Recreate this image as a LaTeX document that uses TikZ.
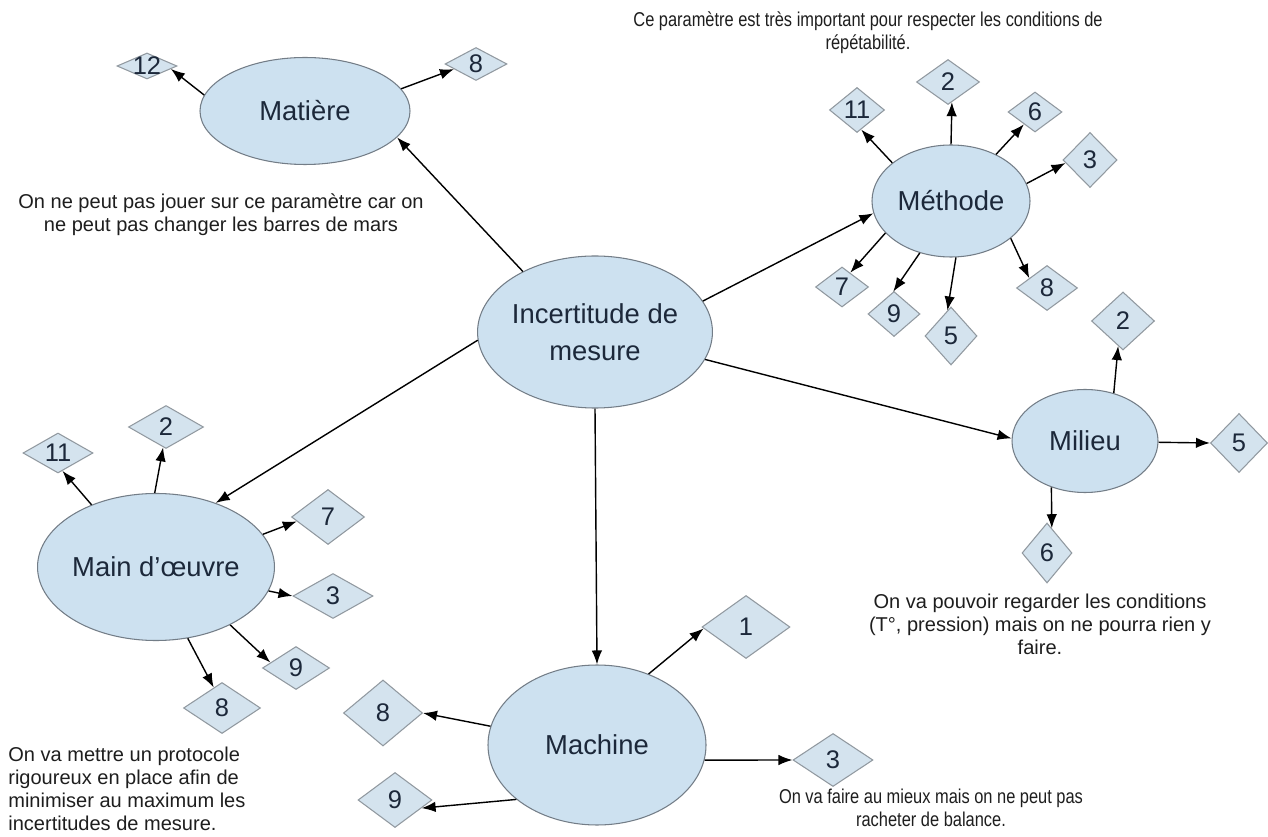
\documentclass[tikz,border=0pt]{standalone}
\usepackage{fontspec}
\setmainfont{Liberation Sans}
\usetikzlibrary{shapes.geometric,arrows.meta}
\definecolor{ellfill}{RGB}{205,225,240}
\definecolor{ellborder}{RGB}{115,125,135}
\definecolor{diafill}{RGB}{212,227,238}
\definecolor{diaborder}{RGB}{145,153,160}
\definecolor{labnavy}{RGB}{28,40,58}
\definecolor{notegray}{RGB}{30,30,30}
\newcommand{\biglabelfont}{\fontsize{15.6}{21}\selectfont}
\newcommand{\numberfont}{\fontsize{14.5}{16}\selectfont}
\newcommand{\annotfont}{\fontsize{11.4}{13.1}\selectfont}
\tikzset{
  ell/.style 2 args={ellipse, draw=ellborder, line width=0.6pt, fill=ellfill,
    inner sep=0pt, minimum width=#1*0.02cm, minimum height=#2*0.02cm,
    font=\biglabelfont, text=labnavy, align=center},
  dia/.style 2 args={diamond, draw=diaborder, line width=0.6pt, fill=diafill,
    inner sep=0pt, minimum width=#1*0.02cm, minimum height=#2*0.02cm},
  num/.style={font=\numberfont, text=labnavy, inner sep=0pt},
  arr/.style={-{Latex[length=2.8mm,width=2.1mm]}, line width=0.8pt, black},
  note/.style={font=\annotfont, text=notegray, inner sep=0pt, align=center}
}
\begin{document}
\begin{tikzpicture}[x=0.02cm,y=-0.02cm]
\useasboundingbox[fill=white] (0,0) rectangle (1268,837);

% main ellipses
\node[ell={234}{152}] (inc) at (595,332) {Incertitude de\\mesure};
\node[ell={210}{107}] (mat) at (305,111) {Matière};
\node[ell={158}{112}] (met) at (951,201) {Méthode};
\node[ell={146}{103}] (mil) at (1085,441) {Milieu};
\node[ell={205}{147}] (mo) at (156,567) {Main d’œuvre};
\node[ell={218}{160}] (mac) at (597,745) {Machine};

% Matière diamonds
\node[dia={60}{26}, label={[num]center:12}] (m12) at (147,66) {};
\node[dia={62}{33}, label={[num]center:8}] (m8) at (476,64) {};

% Méthode diamonds
\node[dia={55}{45}, label={[num]center:11}] (t11) at (857,110) {};
\node[dia={63}{45}, label={[num]center:2}] (t2) at (948,82) {};
\node[dia={54}{40}, label={[num]center:6}] (t6) at (1035,112) {};
\node[dia={54}{55}, label={[num]center:3}] (t3) at (1090,160) {};
\node[dia={53}{40}, label={[num]center:7}] (t7) at (842,287) {};
\node[dia={52}{45}, label={[num]center:9}] (t9) at (894,314) {};
\node[dia={52}{58}, label={[num]center:5}] (t5) at (951,336) {};
\node[dia={61}{45}, label={[num]center:8}] (t8) at (1047,288) {};

% Milieu diamonds
\node[dia={63}{58}, label={[num]center:2}] (l2) at (1123,321) {};
\node[dia={57}{59}, label={[num]center:5}] (l5) at (1239,443) {};
\node[dia={50}{60}, label={[num]center:6}] (l6) at (1047,553) {};

% Main d'oeuvre diamonds
\node[dia={70}{40}, label={[num]center:11}] (o11) at (58,453) {};
\node[dia={75}{43}, label={[num]center:2}] (o2) at (166,427) {};
\node[dia={73}{55}, label={[num]center:7}] (o7) at (328,517) {};
\node[dia={80}{45}, label={[num]center:3}] (o3) at (333,596) {};
\node[dia={67}{43}, label={[num]center:9}] (o9) at (296,668) {};
\node[dia={77}{51}, label={[num]center:8}] (o8) at (222,708) {};

% Machine diamonds
\node[dia={88}{63}, label={[num]center:1}] (c1) at (746,627) {};
\node[dia={79}{66}, label={[num]center:8}] (c8) at (383,713) {};
\node[dia={74}{55}, label={[num]center:9}] (c9) at (395,800) {};
\node[dia={80}{53}, label={[num]center:3}] (c3) at (833,760) {};

% annotations
\node[note] (nmat) at (221,215) {On ne peut pas jouer sur ce paramètre car on\\ne peut pas changer les barres de mars};
\node[note] (nmet) at (868,33) {\scalebox{0.82}[1]{\begin{tabular}{@{}c@{}}Ce paramètre est très important pour respecter les conditions de\\répétabilité.\end{tabular}}};
\node[note] (nmil) at (1040,624) {On va pouvoir regarder les conditions\\(T°, pression) mais on ne pourra rien y\\faire.};
\node[note, align=left, anchor=west] (nmo) at (8,789) {On va mettre un protocole\\rigoureux en place afin de\\minimiser au maximum les\\incertitudes de mesure.};
\node[note] (nmac) at (931,810) {\scalebox{0.82}[1]{\begin{tabular}{@{}c@{}}On va faire au mieux mais on ne peut pas\\racheter de balance.\end{tabular}}};

% main arrows
\draw[arr] (inc.140) -- (mat.-16.5);
\draw[arr] (inc.16) -- (met.189);
\draw[arr] (inc.-14) -- (mil.178);
\draw[arr] (inc.184) -- (mo.47);
\draw[arr] (inc.-90) -- (mac.90);

% Matière
\draw[arr] (mat.171) -- (m12.-7);
\draw[arr] (mat.13) -- (m8.-167);

% Méthode
\draw[arr] (met.147) -- (t11.-78);
\draw[arr] (met.90) -- (t2.-79);
\draw[arr] (met.46) -- (t6.-132);
\draw[arr] (met.13) -- (t3.-173);
\draw[arr] (met.-154) -- (t7.60);
\draw[arr] (met.-121) -- (t9.92);
\draw[arr] (met.-85) -- (t5.98);
\draw[arr] (met.-32) -- (t8.151);

% Milieu
\draw[arr] (mil.59) -- (l2.-101);
\draw[arr] (mil.-1.5) -- (l5.180);
\draw[arr] (mil.-126) -- (l6.79);

% Main d'oeuvre
\draw[arr] (mo.136) -- (o11.-76);
\draw[arr] (mo.91) -- (o2.-98);
\draw[arr] (mo.17) -- (o7.188);
\draw[arr] (mo.-12) -- (o3.180);
\draw[arr] (mo.-38) -- (o9.168);
\draw[arr] (mo.-66) -- (o8.112);

% Machine
\draw[arr] (mac.54) -- (c1.182);
\draw[arr] (mac.170) -- (c8.0);
\draw[arr] (mac.-146) -- (c9.-17.5);
\draw[arr] (mac.-8) -- (c3.180);
\end{tikzpicture}
\end{document}
